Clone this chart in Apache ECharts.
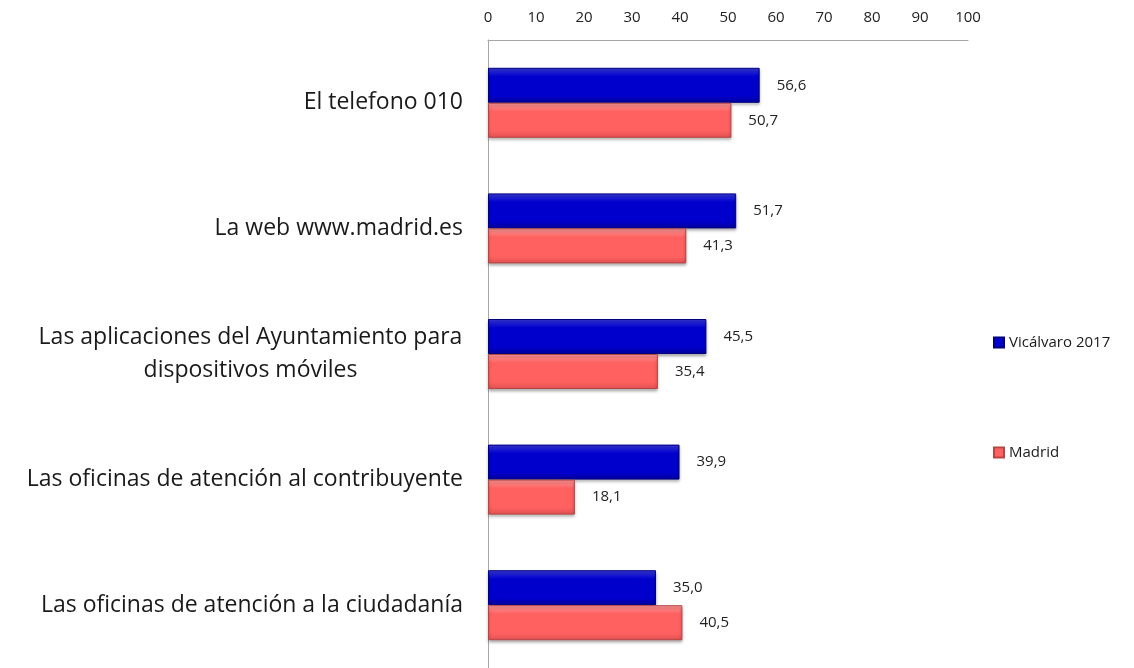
<!DOCTYPE html>
<html>
<head>
<meta charset="utf-8">
<script src="https://cdn.jsdelivr.net/npm/echarts@6/dist/echarts.min.js"></script>
<style>
  html, body { margin: 0; padding: 0; background: #fff; }
  #main { width: 1134px; height: 668px; }
</style>
</head>
<body>
<div id="main"></div>
<script>
// datos
var categorias = [
  'El telefono 010',
  'La web www.madrid.es',
  'Las aplicaciones del Ayuntamiento para\ndispositivos móviles',
  'Las oficinas de atención al contribuyente',
  'Las oficinas de atención a la ciudadanía'
];
var vicalvaro = [56.6, 51.7, 45.5, 39.9, 35.0];
var madrid = [50.7, 41.3, 35.4, 18.1, 40.5];
var nombres = ['Vicálvaro 2017', 'Madrid'];

var fuente = 'Open Sans';
var myChart = echarts.init(document.getElementById('main'));

function etiqueta(p) {
  return p.value.toFixed(1).replace('.', ',');
}

function grad(c1, c2, c3) {
  return new echarts.graphic.LinearGradient(0, 0, 0, 1, [
    { offset: 0, color: c1 },
    { offset: 0.25, color: c2 },
    { offset: 0.8, color: c2 },
    { offset: 1, color: c3 }
  ]);
}

var option = {
  animation: false,
  backgroundColor: '#fff',
  textStyle: { fontFamily: fuente },
  grid: { left: 488, right: 166, top: 40, height: 630, containLabel: false },
  legend: {
    orient: 'vertical',
    left: 988,
    top: 330,
    itemGap: 95,
    itemWidth: 10,
    itemHeight: 10,
    icon: 'rect',
    textStyle: { fontSize: 15, color: '#1a1a1a', fontFamily: fuente },
    data: nombres
  },
  xAxis: {
    type: 'value',
    position: 'top',
    min: 0,
    max: 100,
    interval: 10,
    splitLine: { show: false },
    axisTick: { show: false },
    axisLine: { show: true, lineStyle: { color: '#a6a6a6' } },
    axisLabel: { fontSize: 15, color: '#222', margin: 15, fontFamily: fuente }
  },
  yAxis: {
    type: 'category',
    inverse: true,
    data: categorias,
    axisTick: { show: false },
    axisLine: { show: true, lineStyle: { color: '#a6a6a6' } },
    axisLabel: {
      fontSize: 23,
      color: '#1a1a1a',
      margin: 25,
      fontFamily: fuente,
      formatter: function (v) {
        if (v.indexOf('\n') >= 0) {
          return v.split('\n').map(function (s) { return '{c|' + s + '}'; }).join('\n');
        }
        return v;
      },
      rich: {
        c: { width: 425, align: 'center', fontSize: 23, color: '#1a1a1a', fontFamily: fuente, lineHeight: 33 }
      }
    }
  },
  series: [
    {
      name: nombres[0],
      type: 'bar',
      data: vicalvaro,
      barWidth: 35,
      barGap: '0%',
      itemStyle: {
        color: grad('#3a3ae0', '#0000cc', '#00009a'),
        borderColor: '#000080',
        borderWidth: 1,
        shadowColor: 'rgba(0,0,0,0.35)',
        shadowBlur: 3,
        shadowOffsetY: 2
      },
      label: {
        show: true,
        position: 'right',
        distance: 17,
        fontSize: 15,
        color: '#222',
        fontFamily: fuente,
        formatter: etiqueta
      }
    },
    {
      name: nombres[1],
      type: 'bar',
      data: madrid,
      barWidth: 35,
      itemStyle: {
        color: grad('#ff9a9a', '#ff6161', '#e05050'),
        borderColor: '#b84545',
        borderWidth: 1,
        shadowColor: 'rgba(0,0,0,0.35)',
        shadowBlur: 3,
        shadowOffsetY: 2
      },
      label: {
        show: true,
        position: 'right',
        distance: 17,
        fontSize: 15,
        color: '#222',
        fontFamily: fuente,
        formatter: etiqueta
      }
    }
  ]
};
myChart.setOption(option);
</script>
</body>
</html>
